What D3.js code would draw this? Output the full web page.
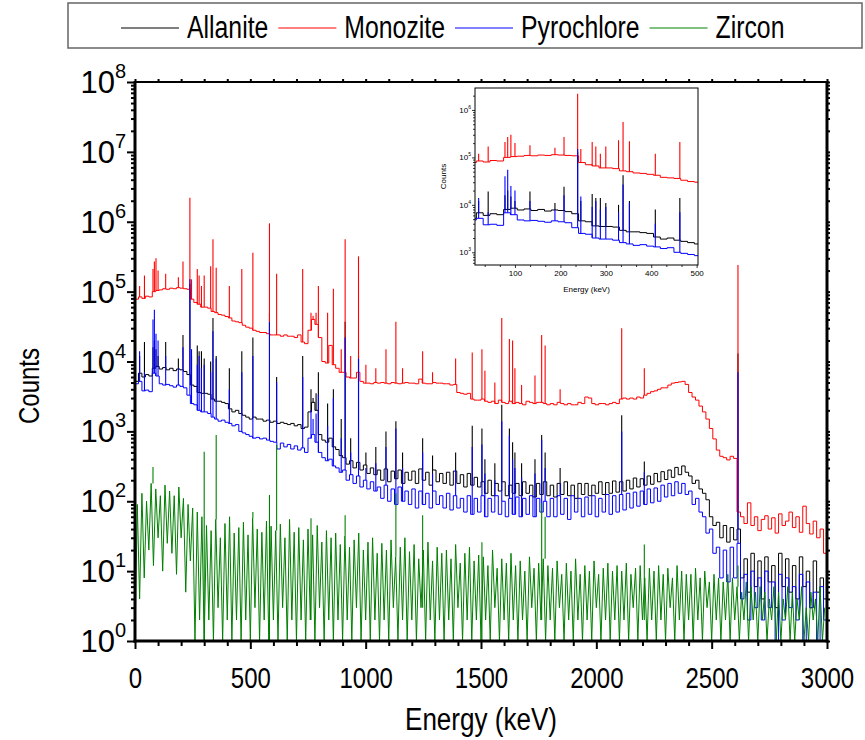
<!DOCTYPE html>
<html>
<head>
<meta charset="utf-8">
<script src="https://cdn.jsdelivr.net/npm/d3@7"></script>
<style>
  body { margin: 0; background: #fff; }
  svg { display: block; }
  text { font-family: "Liberation Sans", Arial, sans-serif; fill: #000; }
</style>
</head>
<body>
<svg id="chart"></svg>
<script>
const seriesNames = ['Allanite', 'Monozite', 'Pyrochlore', 'Zircon'];

// continuum counts per 15 keV channel (0 - 3000 keV), one row = 150 keV
const allanite = [
	5200, 6800, 6000, 6500, 6200, 8000, 8500, 7800, 8200, 7600,
	8000, 7400, 7800, 7600, 7200, 6500, 4600, 4400, 3600, 3500,
	3500, 3400, 2900, 2700, 2700, 2600, 2500, 2100, 1900, 2000,
	1800, 1700, 1600, 1500, 1600, 1500, 1500, 1400, 1450, 1350,
	1400, 1300, 1350, 1300, 1250, 1300, 1200, 1250, 1100, 1150,
	1900, 2600, 2000, 900, 750, 700, 800, 600, 550, 450,
	420, 340, 380, 300, 360, 280, 330, 250, 300, 240,
	280, 200, 290, 190, 270, 210, 280, 180, 260, 200,
	270, 180, 290, 200, 260, 170, 280, 190, 250, 180,
	260, 170, 270, 180, 240, 160, 250, 170, 220, 160,
	190, 130, 200, 120, 180, 140, 190, 120, 170, 130,
	180, 120, 190, 130, 170, 115, 180, 125, 190, 120,
	170, 115, 180, 125, 190, 120, 170, 110, 180, 125,
	180, 120, 170, 130, 190, 125, 185, 130, 195, 135,
	190, 140, 200, 150, 215, 160, 210, 170, 230, 175,
	250, 190, 265, 205, 280, 220, 305, 240, 320, 260,
	230, 180, 200, 150, 130, 105, 60, 45, 50, 30,
	45, 26, 42, 28, 40, 8, 15, 5, 18, 6,
	14, 4, 16, 7, 12, 3, 18, 6, 15, 5,
	12, 4, 16, 6, 10, 3, 14, 5, 8, 4
];

const monozite = [
	78000, 84000, 80000, 86000, 84000, 100000, 104000, 106000, 110000, 108000,
	112000, 110000, 114000, 112000, 110000, 108000, 78000, 70000, 66000, 60000,
	60000, 58000, 52000, 50000, 47000, 46000, 44000, 42000, 38000, 37000,
	36000, 33000, 31000, 30000, 28000, 27000, 26000, 26000, 25000, 24000,
	24000, 24000, 23000, 24000, 23000, 23000, 22000, 24000, 19000, 18000,
	28000, 40000, 34000, 22000, 10000, 9500, 17000, 9000, 8000, 7000,
	7000, 6000, 5800, 5800, 7000, 5200, 4900, 4900, 4800, 5000,
	4900, 5000, 4900, 4800, 5000, 4900, 4800, 4900, 5000, 4900,
	4900, 4800, 5600, 4900, 4800, 4800, 5000, 4900, 4900, 4800,
	4800, 4600, 4700, 3600, 3500, 3400, 3500, 2900, 2800, 2800,
	2900, 2700, 2600, 2700, 2500, 2800, 2600, 2500, 2700, 2500,
	2600, 2500, 2400, 2700, 2600, 2500, 2600, 2600, 2500, 2400,
	2500, 2400, 2600, 2500, 2400, 2500, 2400, 2400, 2600, 2500,
	3100, 3000, 2500, 2400, 2500, 2500, 2400, 2500, 2600, 2500,
	2900, 3000, 2900, 3000, 2900, 3100, 3000, 3300, 3500, 3700,
	3800, 4000, 4200, 4200, 4600, 4900, 5000, 5100, 5200, 4700,
	3600, 3100, 2800, 2300, 1900, 1500, 1100, 780, 540, 440,
	420, 390, 440, 410, 70, 60, 48, 95, 45, 60,
	38, 55, 62, 40, 58, 35, 66, 45, 52, 70,
	42, 60, 36, 85, 48, 34, 52, 30, 40, 18
];

const pyrochlore = [
	4800, 5200, 3800, 3900, 3700, 6800, 6200, 4800, 4600, 4700,
	4500, 4300, 4600, 4400, 4200, 3300, 2500, 2400, 2000, 1900,
	1900, 1800, 1600, 1500, 1400, 1450, 1350, 1300, 1200, 1250,
	1000, 950, 900, 850, 800, 820, 780, 800, 750, 720,
	700, 560, 680, 600, 650, 560, 620, 540, 580, 500,
	800, 900, 700, 500, 420, 380, 400, 320, 300, 260,
	280, 200, 240, 180, 230, 160, 200, 150, 190, 140,
	160, 110, 170, 100, 150, 90, 160, 100, 140, 90,
	150, 80, 140, 90, 130, 80, 140, 90, 120, 80,
	130, 75, 120, 80, 110, 70, 120, 65, 110, 70,
	120, 60, 110, 70, 120, 65, 100, 60, 110, 65,
	115, 60, 110, 65, 120, 60, 110, 70, 100, 60,
	110, 60, 120, 65, 110, 55, 120, 70, 110, 60,
	115, 65, 120, 60, 110, 70, 125, 65, 120, 70,
	125, 75, 130, 80, 135, 85, 140, 90, 150, 95,
	155, 100, 170, 115, 180, 120, 190, 130, 180, 125,
	140, 90, 110, 70, 60, 35, 40, 18, 22, 8,
	20, 7, 22, 8, 25, 4, 9, 2, 10, 3,
	8, 2, 10, 3, 7, 1, 9, 2, 8, 3,
	6, 2, 9, 1, 7, 3, 5, 1, 6, 2
];

// zircon is read at 10 keV per channel, one row = 150 keV
const zircon = [
	1, 90, 4, 130, 8, 100, 20, 180, 12, 150, 30, 120, 10, 170, 25,
	140, 18, 120, 9, 160, 30, 110, 5, 90, 14, 80, 1, 70, 2, 60,
	1, 45, 2, 38, 1, 55, 3, 30, 1, 48, 2, 60, 1, 35, 2,
	42, 1, 50, 2, 33, 1, 58, 3, 40, 1, 36, 2, 52, 1, 44,
	2, 38, 1, 47, 3, 30, 1, 55, 2, 36, 1, 42, 2, 28, 1,
	40, 2, 33, 1, 45, 3, 26, 1, 38, 2, 30, 1, 35, 2, 24,
	1, 32, 2, 22, 1, 28, 3, 35, 1, 20, 2, 26, 1, 30, 2,
	18, 1, 25, 2, 20, 1, 28, 3, 16, 1, 22, 2, 30, 1, 19,
	2, 24, 1, 15, 3, 20, 1, 26, 2, 14, 1, 22, 2, 18, 1,
	20, 2, 15, 1, 24, 3, 13, 1, 18, 2, 22, 1, 14, 2, 17,
	1, 16, 2, 12, 1, 20, 3, 11, 1, 15, 2, 13, 1, 18, 2,
	12, 1, 14, 2, 10, 1, 16, 3, 11, 1, 13, 2, 15, 1, 12,
	2, 11, 1, 14, 3, 9, 1, 13, 2, 10, 1, 15, 2, 9, 1,
	12, 2, 10, 1, 14, 3, 9, 1, 11, 2, 13, 1, 10, 2, 12,
	1, 10, 2, 13, 1, 9, 3, 11, 1, 12, 2, 8, 1, 11, 2,
	10, 1, 12, 2, 9, 1, 11, 3, 8, 1, 12, 2, 10, 1, 9,
	2, 9, 1, 11, 2, 8, 1, 10, 3, 7, 1, 9, 2, 8, 1,
	7, 2, 9, 1, 8, 2, 6, 1, 5, 2, 7, 1, 6, 2, 5,
	1, 6, 2, 5, 1, 4, 2, 6, 1, 5, 1, 4, 2, 6, 1,
	5, 1, 4, 2, 6, 1, 3, 1, 5, 2, 4, 1, 6, 1, 3
];

// gamma lines (keV) and peak counts for each sample, 0 = no visible line
const peakEnergy = [
	20, 41, 78, 84, 91, 100, 133, 188, 208, 238,
	245, 270, 278, 288, 300, 328, 338, 352, 409, 463,
	511, 583, 614, 727, 763, 772, 785, 795, 835, 860,
	894, 911, 935, 969, 1001, 1044, 1088, 1131, 1160, 1247,
	1290, 1390, 1462, 1504, 1517, 1560, 1590, 1623, 1637, 1647,
	1676, 1734, 1763, 1778, 1843, 2110, 2208, 2614
];
const peakAllanite = [
	12000, 19000, 16000, 20000, 15000, 12000, 19000, 11000, 24000, 130000,
	12000, 17000, 14000, 14000, 11000, 10000, 42000, 12000, 8000, 14000,
	22000, 50000, 6000, 12000, 4000, 3000, 3500, 7000, 2500, 4000,
	1500, 37000, 800, 12000, 500, 600, 1000, 1400, 500, 800,
	450, 500, 1200, 1100, 400, 350, 2400, 1100, 700, 500,
	350, 400, 890, 500, 300, 1700, 370, 13000
];
const peakMonozite = [
	120000, 170000, 210000, 270000, 300000, 200000, 180000, 160000, 270000, 2200000,
	150000, 210000, 170000, 120000, 170000, 230000, 560000, 220000, 120000, 210000,
	360000, 950000, 180000, 210000, 50000, 45000, 50000, 120000, 50000, 110000,
	15000, 560000, 12000, 320000, 9000, 8000, 15000, 37000, 8000, 14000,
	7000, 11000, 13500, 15000, 7400, 5000, 42000, 21000, 20000, 8000,
	4600, 6300, 24000, 17000, 4000, 30000, 8000, 240000
];
const peakPyrochlore = [
	14000, 7000, 40000, 55000, 25000, 20000, 12000, 8000, 16000, 150000,
	15000, 9000, 12000, 8000, 9000, 7000, 27000, 11000, 4000, 7000,
	12000, 37000, 5000, 6000, 2000, 1500, 1800, 3400, 1200, 3000,
	800, 22000, 500, 11000, 300, 350, 600, 1100, 300, 500,
	250, 280, 600, 650, 250, 200, 1400, 870, 400, 300,
	220, 250, 760, 300, 180, 1000, 260, 7000
];
const peakZircon = [
	0, 0, 310, 0, 0, 0, 0, 0, 0, 0,
	0, 0, 0, 0, 510, 0, 0, 890, 0, 0,
	70, 123, 640, 0, 57, 0, 0, 0, 0, 0,
	0, 63, 0, 0, 0, 0, 0, 130, 0, 63,
	0, 0, 0, 26, 0, 0, 0, 0, 0, 0,
	0, 0, 94, 60, 0, 0, 24, 12
];

const xMajorTicks = [0, 500, 1000, 1500, 2000, 2500, 3000];
const xMinorTicks = [100, 200, 300, 400, 600, 700, 800, 900, 1100, 1200, 1300, 1400,
	1600, 1700, 1800, 1900, 2100, 2200, 2300, 2400, 2600, 2700, 2800, 2900];
const yDecades = [1, 10, 100, 1000, 10000, 100000, 1000000, 10000000, 100000000];

const insetXTicks = [100, 200, 300, 400, 500];
const insetXMinor = [33.3, 66.7, 133.3, 166.7, 233.3, 266.7, 333.3, 366.7, 433.3, 466.7];
const insetYDecades = [1000, 10000, 100000, 1000000];

const colors = {Allanite: '#000000', Monozite: '#ff0000', Pyrochlore: '#0000ff', Zircon: '#008000'};

const series = [
	{name: 'Allanite', values: allanite, peaks: peakAllanite, bin: 15, curve: d3.curveStepAfter},
	{name: 'Monozite', values: monozite, peaks: peakMonozite, bin: 15, curve: d3.curveStepAfter},
	{name: 'Pyrochlore', values: pyrochlore, peaks: peakPyrochlore, bin: 15, curve: d3.curveStepAfter},
	{name: 'Zircon', values: zircon, peaks: peakZircon, bin: 10, curve: d3.curveLinear}
];

const svg = d3.select('#chart')
	.attr('width', 865)
	.attr('height', 740);

const plot = {left: 135, right: 827, top: 82, bottom: 641};

const xScale = d3.scaleLinear().domain([0, 3000]).range([plot.left, plot.right]);
const yScale = d3.scaleLog().domain([1, 1e8]).range([plot.bottom, plot.top]).clamp(true);

// the original lettering is a condensed sans; squeeze Liberation Sans to match
const squeeze = (sel, k) => sel.each(function () {
	const w = this.getComputedTextLength();
	d3.select(this).attr('textLength', w * k).attr('lengthAdjust', 'spacingAndGlyphs');
});

const minorOf = decades => {
	const out = [];
	decades.forEach(d => { for (let k = 2; k <= 9; k++) out.push(d * k); });
	return out;
};

const channelPoints = s => {
	const pts = s.values.map((v, i) => [i * s.bin, v]);
	if (s.curve === d3.curveStepAfter) pts.push([s.values.length * s.bin, s.values[s.values.length - 1]]);
	return pts;
};

const drawSpectra = (g, xs, ys, list) => {
	list.forEach(s => {
		const line = d3.line()
			.x(d => xs(d[0]))
			.y(d => ys(Math.max(d[1], 1e-3)));
		const sg = g.append('g').attr('class', 'spectrum');
		sg.append('path')
			.attr('d', line.curve(s.curve)(channelPoints(s)))
			.attr('fill', 'none')
			.attr('stroke', colors[s.name])
			.attr('stroke-width', 1);
		peakEnergy.forEach((e, i) => {
			const h = s.peaks[i];
			const base = s.values[Math.floor(e / s.bin)];
			if (!h || h <= base) return;
			sg.append('path')
				.attr('d', line.curve(d3.curveLinear)([[e, base], [e, h]]))
				.attr('fill', 'none')
				.attr('stroke', colors[s.name])
				.attr('stroke-width', 1.1);
		});
	});
};

// ---------- main plot ----------
svg.append('clipPath').attr('id', 'mainClip')
	.append('rect')
	.attr('x', plot.left).attr('y', plot.top)
	.attr('width', plot.right - plot.left).attr('height', plot.bottom - plot.top);

const mainG = svg.append('g').attr('clip-path', 'url(#mainClip)');
drawSpectra(mainG, xScale, yScale, series);

// axes
const axisG = svg.append('g');

const xAxis = d3.axisBottom(xScale).tickValues(xMajorTicks).tickSize(8).tickPadding(18).tickFormat(d3.format('d'));
const xAxisG = axisG.append('g').attr('transform', `translate(0,${plot.bottom})`).call(xAxis);
xAxisG.selectAll('text').style('font-size', '30px').call(squeeze, 0.8);
axisG.append('g').attr('transform', `translate(0,${plot.bottom})`)
	.call(d3.axisBottom(xScale).tickValues(xMinorTicks).tickSize(5).tickFormat(''));
axisG.append('g').attr('transform', `translate(0,${plot.top})`)
	.call(d3.axisTop(xScale).tickValues(xMajorTicks.concat(xMinorTicks)).tickSize(3).tickFormat(''));

axisG.append('g').attr('transform', `translate(${plot.left},0)`)
	.call(d3.axisLeft(yScale).tickValues(yDecades).tickSize(8).tickFormat(''));
axisG.append('g').attr('transform', `translate(${plot.left},0)`)
	.call(d3.axisLeft(yScale).tickValues(minorOf(yDecades.slice(0, -1))).tickSize(4).tickFormat(''));
axisG.append('g').attr('transform', `translate(${plot.right},0)`)
	.call(d3.axisRight(yScale).tickValues(yDecades.concat(minorOf(yDecades.slice(0, -1)))).tickSize(3).tickFormat(''));

axisG.selectAll('.domain').remove();
axisG.selectAll('.tick line').attr('stroke', '#000').attr('stroke-width', 2);

yDecades.forEach(v => {
	const t = axisG.append('text')
		.attr('x', 126)
		.attr('y', yScale(v) + 11)
		.attr('text-anchor', 'end')
		.style('font-size', '31px');
	t.append('tspan').text('10');
	t.append('tspan').attr('dy', -15).style('font-size', '20px').text(Math.round(Math.log10(v)));
});

// frame
axisG.append('line').attr('x1', plot.left).attr('x2', plot.right).attr('y1', plot.top).attr('y2', plot.top)
	.attr('stroke', '#000').attr('stroke-width', 2);
axisG.append('line').attr('x1', plot.right).attr('x2', plot.right).attr('y1', plot.top - 1).attr('y2', plot.bottom + 1.5)
	.attr('stroke', '#000').attr('stroke-width', 3);
axisG.append('line').attr('x1', plot.left).attr('x2', plot.left).attr('y1', plot.top - 1).attr('y2', plot.bottom + 1.5)
	.attr('stroke', '#000').attr('stroke-width', 3);
axisG.append('line').attr('x1', plot.left - 1.5).attr('x2', plot.right + 1.5).attr('y1', plot.bottom).attr('y2', plot.bottom)
	.attr('stroke', '#000').attr('stroke-width', 3);

svg.append('text')
	.attr('x', 481)
	.attr('y', 730)
	.attr('text-anchor', 'middle')
	.style('font-size', '31px')
	.text('Energy (keV)')
	.call(squeeze, 0.84);

svg.append('text')
	.attr('transform', `translate(39,386) rotate(-90)`)
	.attr('text-anchor', 'middle')
	.style('font-size', '30px')
	.text('Counts')
	.call(squeeze, 0.8);

// ---------- inset ----------
const inset = {left: 475, right: 698, top: 88, bottom: 265};
const ix = d3.scaleLinear().domain([12, 503]).range([inset.left, inset.right]);
const iy = d3.scaleLog().domain([540, 2.9e6]).range([inset.bottom, inset.top]);

svg.append('rect')
	.attr('x', inset.left).attr('y', inset.top)
	.attr('width', inset.right - inset.left).attr('height', inset.bottom - inset.top)
	.attr('fill', '#fff');

svg.append('clipPath').attr('id', 'insetClip')
	.append('rect')
	.attr('x', inset.left).attr('y', inset.top)
	.attr('width', inset.right - inset.left).attr('height', inset.bottom - inset.top);

const insetG = svg.append('g').attr('clip-path', 'url(#insetClip)');
drawSpectra(insetG, ix, iy, series.filter(s => s.name !== 'Zircon'));

const insetAxes = svg.append('g');
const ixAxisG = insetAxes.append('g').attr('transform', `translate(0,${inset.bottom})`)
	.call(d3.axisBottom(ix).tickValues(insetXTicks).tickSize(3).tickPadding(2));
ixAxisG.selectAll('text').style('font-size', '8px');
insetAxes.append('g').attr('transform', `translate(0,${inset.bottom})`)
	.call(d3.axisBottom(ix).tickValues(insetXMinor).tickSize(2).tickFormat(''));
insetAxes.append('g').attr('transform', `translate(${inset.left},0)`)
	.call(d3.axisLeft(iy).tickValues(insetYDecades).tickSize(3).tickFormat(''));
insetAxes.append('g').attr('transform', `translate(${inset.left},0)`)
	.call(d3.axisLeft(iy).tickValues(minorOf([100, 1000, 10000, 100000, 1000000]).filter(v => v >= 540 && v <= 2.9e6)).tickSize(2).tickFormat(''));
insetAxes.selectAll('.domain').remove();
insetAxes.selectAll('.tick line').attr('stroke', '#000').attr('stroke-width', 0.8);

insetYDecades.forEach(v => {
	const t = insetAxes.append('text')
		.attr('x', 471)
		.attr('y', iy(v) + 3)
		.attr('text-anchor', 'end')
		.style('font-size', '8px');
	t.append('tspan').text('10');
	t.append('tspan').attr('dy', -4).style('font-size', '5px').text(Math.round(Math.log10(v)));
});

insetAxes.append('rect')
	.attr('x', inset.left).attr('y', inset.top)
	.attr('width', inset.right - inset.left).attr('height', inset.bottom - inset.top)
	.attr('fill', 'none').attr('stroke', '#000').attr('stroke-width', 1);

insetAxes.append('text')
	.attr('x', (inset.left + inset.right) / 2)
	.attr('y', 292)
	.attr('text-anchor', 'middle')
	.style('font-size', '8px')
	.text('Energy (keV)');
insetAxes.append('text')
	.attr('transform', `translate(446,${(inset.top + inset.bottom) / 2}) rotate(-90)`)
	.attr('text-anchor', 'middle')
	.style('font-size', '8px')
	.text('Counts');

// ---------- legend ----------
const legend = svg.append('g');
legend.append('rect')
	.attr('x', 68).attr('y', 3).attr('width', 794).attr('height', 45)
	.attr('fill', '#fff').attr('stroke', '#666').attr('stroke-width', 1.5);

let lx = 121;
seriesNames.forEach(name => {
	legend.append('line')
		.attr('x1', lx).attr('x2', lx + 58).attr('y1', 28).attr('y2', 28)
		.attr('stroke', colors[name]).attr('stroke-width', 1);
	const t = legend.append('text')
		.attr('x', lx + 66).attr('y', 38)
		.style('font-size', '31px')
		.text(name)
		.call(squeeze, 0.8);
	lx += 66 + +t.attr('textLength') + 10;
});
</script>
</body>
</html>
